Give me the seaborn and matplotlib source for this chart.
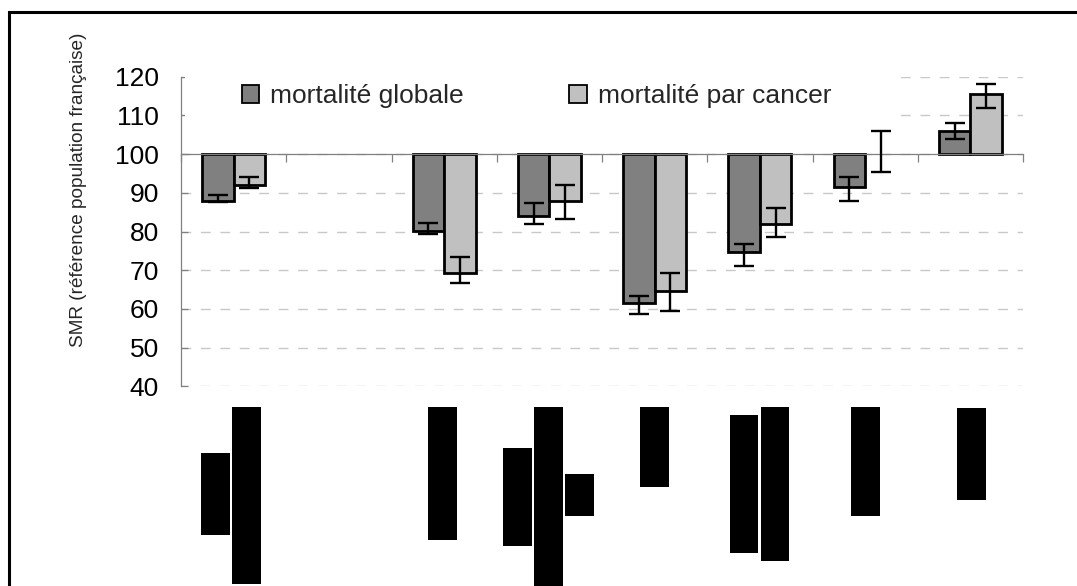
import numpy as np
import pandas as pd
import matplotlib.pyplot as plt
import matplotlib.patches as mpatches
import seaborn as sns

# catégories (libellés masqués sur la figure d'origine)
categories = ["groupe 1", "groupe 2", "groupe 3", "groupe 4",
              "groupe 5", "groupe 6", "groupe 7", "groupe 8"]
series = ["mortalité globale", "mortalité par cancer"]

# SMR et intervalles de confiance
smr_global = [88.0, np.nan, 80.1, 84.0, 61.4, 74.7, 91.4, 106.0]
global_lo = [87.7, np.nan, 79.3, 82.0, 58.7, 71.2, 87.9, 103.9]
global_hi = [89.4, np.nan, 82.2, 87.3, 63.4, 76.7, 94.0, 108.0]

smr_cancer = [92.0, np.nan, 69.4, 87.9, 64.7, 82.0, 100.0, 115.5]
cancer_lo = [91.3, np.nan, 66.7, 83.3, 59.4, 78.6, 95.3, 112.0]
cancer_hi = [94.1, np.nan, 73.3, 92.0, 69.3, 86.0, 106.0, 118.2]

colors = ["#808080", "#C0C0C0"]
reference = 100

df = pd.DataFrame({
    "categorie": categories * 2,
    "serie": [series[0]] * len(categories) + [series[1]] * len(categories),
    "smr": smr_global + smr_cancer,
    "bas": global_lo + cancer_lo,
    "haut": global_hi + cancer_hi,
})
df["ecart"] = df["smr"] - reference

sns.set_theme(style="white")
plt.rcParams["font.family"] = ["Liberation Sans", "DejaVu Sans"]

W, H = 1077, 586
fig, ax = plt.subplots(figsize=(W / 100, H / 100), dpi=100)
fig.subplots_adjust(left=181 / W, right=1023 / W, top=1 - 76.7 / H, bottom=1 - 386.3 / H)

sns.barplot(data=df, x="categorie", y="ecart", hue="serie", order=categories,
            hue_order=series, palette=colors, width=0.6, errorbar=None,
            bottom=reference, edgecolor="black", linewidth=2.0, legend=False,
            ax=ax, zorder=2)

# barres d'erreur (IC) centrées sur chaque barre
for cont, name in zip(ax.containers, series):
    sub = df[df["serie"] == name].dropna(subset=["smr"])
    xs = [b.get_x() + b.get_width() / 2 for b in cont]
    for b in cont:
        if b.get_height() == 0:
            b.set_linewidth(0)
    ax.errorbar(xs, sub["smr"], yerr=[sub["smr"] - sub["bas"], sub["haut"] - sub["smr"]],
                fmt="none", ecolor="black", elinewidth=1.7, capsize=7, capthick=1.7, zorder=3)

ax.set_ylim(40, 120)
ax.set_xlim(-0.5, len(categories) - 0.5)
ax.set_yticks(range(40, 121, 10))
ax.set_xticks(np.arange(-0.5, len(categories)))
ax.set_xticklabels([""] * (len(categories) + 1))
ax.set_xlabel("")
ax.set_ylabel("")

for side in ["top", "right"]:
    ax.spines[side].set_visible(False)
ax.spines["bottom"].set_position(("data", reference))
for side in ["left", "bottom"]:
    ax.spines[side].set_color("#808080")
    ax.spines[side].set_linewidth(0.9)

ax.tick_params(axis="x", bottom=True, direction="out", length=5.5, width=0.9,
               color="#808080", labelbottom=False)
ax.tick_params(axis="y", left=True, direction="in", length=5, width=0.9,
               color="#808080", labelsize=19, pad=16, labelcolor="black")

ax.set_axisbelow(True)
ax.yaxis.grid(True, color="#C8C8C8", linewidth=1.0, linestyle=(0, (7, 7)))
ax.xaxis.grid(False)

# fond blanc de la légende (masque le quadrillage comme dans Excel)
ax.add_patch(mpatches.Rectangle((0.005, 108.0), 0.842, 13.7, transform=ax.get_yaxis_transform(),
                                facecolor="white", edgecolor="none", zorder=1, clip_on=False))

handles = [mpatches.Patch(facecolor=c, edgecolor="black", linewidth=1.3, label=s)
           for c, s in zip(colors, series)]
ax.legend(handles=handles, ncol=2, loc="center left",
          bbox_to_anchor=((242 - 181) / 842, 115.0), bbox_transform=ax.get_yaxis_transform(),
          frameon=False, fontsize=19, handlelength=0.65, handleheight=0.65,
          handletextpad=0.42, columnspacing=4.0, borderpad=0, borderaxespad=0)

fig.text(79 / W, 1 - 190 / H, "SMR (référence population française)", rotation=90,
         ha="center", va="center", fontsize=13.7)

# libellés masqués (rectangles noirs de la figure d'origine), en pixels
redactions = [(201, 453, 29, 82), (232, 407, 29, 177), (428, 407, 29, 133),
              (503, 448, 29, 98), (534, 407, 29, 179), (565, 474, 29, 42),
              (640, 407, 29, 80), (730, 415, 28, 138), (761, 407, 28, 154),
              (851, 407, 29, 109), (957, 408, 29, 92)]
for x, y, w, h in redactions:
    fig.patches.append(mpatches.Rectangle((x / W, 1 - (y + h) / H), w / W, h / H,
                                          transform=fig.transFigure, facecolor="black",
                                          edgecolor="none"))

# cadre extérieur
fig.patches.append(mpatches.Rectangle((9 / W, -0.1), 1.2, 1.1 - 12 / H, transform=fig.transFigure,
                                      fill=False, edgecolor="black", linewidth=2.2))

fig.savefig("out.png", dpi=100)
